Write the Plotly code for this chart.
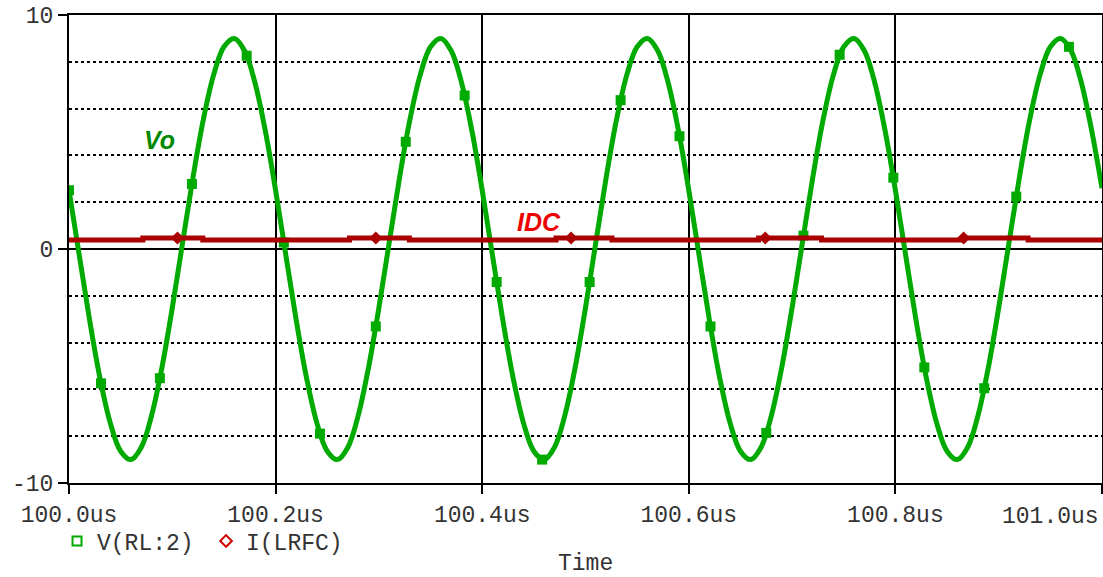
import plotly.graph_objects as go

# ---- data ----
time_us = [100.00, 100.01, 100.02, 100.03, 100.04, 100.05, 100.06, 100.07, 100.08, 100.09,
           100.10, 100.11, 100.12, 100.13, 100.14, 100.15, 100.16, 100.17, 100.18, 100.19,
           100.20, 100.21, 100.22, 100.23, 100.24, 100.25, 100.26, 100.27, 100.28, 100.29,
           100.30, 100.31, 100.32, 100.33, 100.34, 100.35, 100.36, 100.37, 100.38, 100.39,
           100.40, 100.41, 100.42, 100.43, 100.44, 100.45, 100.46, 100.47, 100.48, 100.49,
           100.50, 100.51, 100.52, 100.53, 100.54, 100.55, 100.56, 100.57, 100.58, 100.59,
           100.60, 100.61, 100.62, 100.63, 100.64, 100.65, 100.66, 100.67, 100.68, 100.69,
           100.70, 100.71, 100.72, 100.73, 100.74, 100.75, 100.76, 100.77, 100.78, 100.79,
           100.80, 100.81, 100.82, 100.83, 100.84, 100.85, 100.86, 100.87, 100.88, 100.89,
           100.90, 100.91, 100.92, 100.93, 100.94, 100.95, 100.96, 100.97, 100.98, 100.99,
           101.00]

v_rl2 = [2.51, -0.28, -3.05, -5.52, -7.44, -8.64, -9.00, -8.47, -7.11, -5.06,
         -2.51, 0.28, 3.05, 5.52, 7.44, 8.64, 9.00, 8.47, 7.11, 5.06,
         2.51, -0.28, -3.05, -5.52, -7.44, -8.64, -9.00, -8.47, -7.11, -5.06,
         -2.51, 0.28, 3.05, 5.52, 7.44, 8.64, 9.00, 8.47, 7.11, 5.06,
         2.51, -0.28, -3.05, -5.52, -7.44, -8.64, -9.00, -8.47, -7.11, -5.06,
         -2.51, 0.28, 3.05, 5.52, 7.44, 8.64, 9.00, 8.47, 7.11, 5.06,
         2.51, -0.28, -3.05, -5.52, -7.44, -8.64, -9.00, -8.47, -7.11, -5.06,
         -2.51, 0.28, 3.05, 5.52, 7.44, 8.64, 9.00, 8.47, 7.11, 5.06,
         2.51, -0.28, -3.05, -5.52, -7.44, -8.64, -9.00, -8.47, -7.11, -5.06,
         -2.51, 0.28, 3.05, 5.52, 7.44, 8.64, 9.00, 8.47, 7.11, 5.06,
         2.60]

v_marker_t = [100.000, 100.031, 100.088, 100.119, 100.172, 100.208, 100.243, 100.297,
              100.326, 100.383, 100.414, 100.458, 100.504, 100.534, 100.591, 100.621,
              100.675, 100.711, 100.746, 100.798, 100.828, 100.886, 100.917, 100.968]
v_marker_v = [2.51, -5.74, -5.52, 2.78, 8.26, 0.28, -7.89, -3.31,
              4.58, 6.56, -1.41, -9.00, -1.41, 6.36, 4.82, -3.31,
              -7.86, 0.57, 8.30, 3.05, -5.06, -5.95, 2.24, 8.64]

i_t = [100.0, 100.0715, 100.1295, 100.2715, 100.3295, 100.4715, 100.5256,
       100.6676, 100.7285, 100.866, 100.9285, 101.0]
i_lrfc = [0.38, 0.47, 0.38, 0.47, 0.38, 0.47, 0.38, 0.47, 0.38, 0.47, 0.38, 0.38]

i_marker_t = [100.105, 100.297, 100.486, 100.674, 100.866]
i_marker_v = [0.47, 0.47, 0.47, 0.47, 0.47]

x_tickvals = [100.0, 100.2, 100.4, 100.6, 100.8, 101.0]
x_ticktext = ["100.0us", "100.2us", "100.4us", "100.6us", "100.8us", "101.0us"]
y_tickvals = [-10, 0, 10]
y_ticktext = ["-10", "0", "10"]
x_title = "Time"

GREEN = "#00aa00"
DARKRED = "#aa0000"
MONO = "Liberation Mono, Courier New, monospace"
SANS = "Liberation Sans, Arial, sans-serif"

fig = go.Figure()

fig.add_trace(go.Scatter(x=time_us, y=v_rl2, mode="lines", line=dict(color=GREEN, width=5, shape="spline"),
                         showlegend=False, hoverinfo="skip"))
fig.add_trace(go.Scatter(x=v_marker_t, y=v_marker_v, mode="markers",
                         marker=dict(symbol="square", size=10, color=GREEN), showlegend=False))
fig.add_trace(go.Scatter(x=i_t, y=i_lrfc, mode="lines", line=dict(color=DARKRED, width=5, shape="hv"),
                         showlegend=False))
fig.add_trace(go.Scatter(x=i_marker_t, y=i_marker_v, mode="markers",
                         marker=dict(symbol="diamond", size=10, color=DARKRED), showlegend=False))

# legend entries
fig.add_trace(go.Scatter(x=[None], y=[None], mode="markers", name="V(RL:2)",
                         marker=dict(symbol="square-open", size=9, color=GREEN, line=dict(width=2, color=GREEN))))
fig.add_trace(go.Scatter(x=[None], y=[None], mode="markers", name="I(LRFC)",
                         marker=dict(symbol="diamond-open", size=9, color="#cc0000", line=dict(width=2, color="#cc0000"))))

fig.update_layout(
    width=1103, height=577,
    margin=dict(l=69, r=1, t=15, b=94, autoexpand=False),
    paper_bgcolor="white", plot_bgcolor="white",
    font=dict(family=MONO, size=23, color="#333333"),
    showlegend=True,
    legend=dict(orientation="h", x=-0.0116, xanchor="left", y=-0.124, yanchor="middle",
                font=dict(family=MONO, size=23, color="#333333"),
                entrywidth=104, entrywidthmode="pixels", bgcolor="rgba(0,0,0,0)"),
    annotations=[
        dict(x=100.088, y=4.66, xref="x", yref="y", text="<b><i>Vo</i></b>", showarrow=False,
             font=dict(family=SANS, size=25, color="#008a00")),
        dict(x=100.455, y=1.15, xref="x", yref="y", text="<b><i>IDC</i></b>", showarrow=False,
             font=dict(family=SANS, size=25, color="#ee0000")),
        dict(x=1.0, y=-0.062, xref="paper", yref="paper", text=x_ticktext[-1], showarrow=False,
             xanchor="right", yanchor="middle", xshift=-1, yshift=-5,
             font=dict(family=MONO, size=23, color="#333333")),
        dict(x=0.5, y=-0.173, xref="paper", yref="paper", text=x_title, showarrow=False,
             xanchor="center", yanchor="middle",
             font=dict(family=MONO, size=23, color="#333333")),
    ],
)

fig.update_xaxes(
    range=[100.0, 101.0], tickvals=x_tickvals,
    ticktext=x_ticktext[:-1] + [""],
    automargin=False,
    showgrid=True, gridcolor="black", gridwidth=2,
    showline=True, linecolor="black", linewidth=2, mirror=True,
    ticks="outside", ticklen=9, tickwidth=2, tickcolor="black",
    zeroline=False,
)
fig.update_yaxes(
    range=[-10, 10], tickvals=y_tickvals, ticktext=y_ticktext,
    automargin=False,
    showgrid=False,
    minor=dict(dtick=2, tick0=0, showgrid=True, gridcolor="black", gridwidth=1.5, griddash="dot", ticks=""),
    showline=True, linecolor="black", linewidth=2, mirror=True,
    ticks="outside", ticklen=9, tickwidth=2, tickcolor="black",
    zeroline=True, zerolinecolor="black", zerolinewidth=2,
)

fig.write_html("out.html", config={"displayModeBar": False},
               post_script="document.body.style.margin='0';")
